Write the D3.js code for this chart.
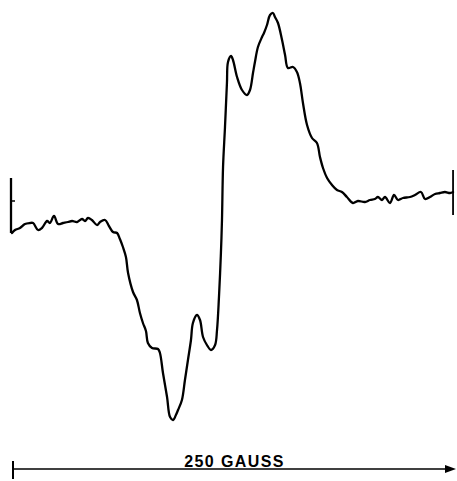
<!DOCTYPE html>
<html>
<head>
<meta charset="utf-8">
<script src="https://cdn.jsdelivr.net/npm/d3@7/dist/d3.min.js"></script>
<style>
  html, body { margin: 0; padding: 0; background: #fff; }
  svg { display: block; }
</style>
</head>
<body>
<script>
// EPR derivative spectrum: field offset (gauss) and signal amplitude (arbitrary units)
const field = [
  0, 1.7, 4.5, 7.3, 10.2, 11.9, 14.7, 16.9, 19.8, 21.4, 23.7, 26.0, 28.8, 31.6, 33.9, 36.7,
  39.5, 41.2, 42.9, 45.1, 48.0, 49.7, 52.5, 54.7, 57.0, 59.3, 60.9, 62.6, 64.3, 65.5, 68.3,
  70.5, 72.2, 73.9, 75.6, 76.7, 79.0, 82.4, 83.5, 85.2, 87.5, 89.2, 90.9, 92.5, 93.7, 95.9,
  97.6, 99.3, 101.0, 102.1, 104.4, 106.1, 107.8, 110.0, 112.3, 114.6, 115.7, 116.8, 117.9,
  118.5, 119.1, 120.2, 121.3, 121.9, 123.6, 124.7, 127.0, 129.8, 132.6, 134.3, 136.0, 137.1,
  138.8, 141.1, 142.2, 143.9, 145.6, 147.3, 148.4, 150.1, 152.4, 154.1, 155.7, 158.6, 160.8,
  162.5, 164.2, 166.5, 169.3, 172.1, 173.8, 175.5, 177.8, 180.6, 183.4, 186.2, 189.0, 192.4,
  195.2, 199.2, 202.0, 204.8, 206.5, 208.8, 210.5, 213.3, 215.6, 217.8, 220.6, 224.6, 227.4,
  230.8, 233.1, 235.9, 238.7, 241.5, 244.3, 247.2, 248.9
];
const signal = [
  -10.5, -9, -8, -6, -5.5, -5.5, -9, -8, -4.5, -5.5, -2, -6, -5.5, -5, -4.5, -5,
  -3.5, -4.5, -3, -4, -6.5, -5, -4, -7, -10, -10.5, -13.5, -17.5, -22.5, -30.5, -40,
  -44, -50.5, -55.5, -59.5, -65.5, -68, -68.5, -70.5, -80.5, -92.5, -102.5, -104, -101.5, -99, -94,
  -84, -74, -64, -55.5, -51.5, -54, -62.5, -66.5, -69, -66.5, -59, -42.5, -20.5,
  -4, 22.5, 42.5, 64.5, 75, 78, 76, 67.5, 61, 58.5, 61, 69.5, 75,
  82.5, 87.5, 89.5, 93.5, 98.5, 99.5, 97.5, 94.5, 86, 78.5, 72, 72.5, 70,
  64.5, 54.5, 43.5, 37, 34.5, 27.5, 22, 17, 13.5, 11, 10, 7.5, 4.5,
  5.5, 5, 6, 6.5, 7.5, 6, 7.5, 4.5, 8.5, 6, 7, 7.5, 8.5,
  10, 6.5, 7.5, 9, 9.5, 10, 9.5, 10
];

// Recorder pen marks at the start and end of the sweep (field, top, bottom)
const startMark = { field: 0, top: 17, bottom: -10.5, tick: 5.5 };
const endMark = { field: 248.9, top: 21, bottom: -1.5 };

// Field scale bar
const scaleBar = { from: 0, to: 250, label: "250 GAUSS" };

const W = 457, H = 481;
const x = d3.scaleLinear().domain([0, 250]).range([12, 455]);
const y = d3.scaleLinear().domain([-105, 100]).range([422, 12]);

const svg = d3.select("body").append("svg")
  .attr("width", W).attr("height", H);

const pts = field.map((f, i) => [f, signal[i]]);

// spectrum trace
svg.append("path")
  .datum(pts)
  .attr("fill", "none")
  .attr("stroke", "#000")
  .attr("stroke-width", 2.3)
  .attr("stroke-linejoin", "round")
  .attr("stroke-linecap", "round")
  .attr("d", d3.line().x(d => x(d[0])).y(d => y(d[1])).curve(d3.curveCatmullRom.alpha(0.5)));

// start-of-sweep marker with its small zero tick
svg.append("line")
  .attr("x1", x(startMark.field) - 1).attr("x2", x(startMark.field) - 1)
  .attr("y1", y(startMark.top)).attr("y2", y(startMark.bottom))
  .attr("stroke", "#000").attr("stroke-width", 2.3);
svg.append("line")
  .attr("x1", x(startMark.field) - 1).attr("x2", x(startMark.field) + 3)
  .attr("y1", y(startMark.tick)).attr("y2", y(startMark.tick))
  .attr("stroke", "#000").attr("stroke-width", 1.5);

// end-of-sweep marker
svg.append("line")
  .attr("x1", x(endMark.field)).attr("x2", x(endMark.field))
  .attr("y1", y(endMark.top)).attr("y2", y(endMark.bottom))
  .attr("stroke", "#000").attr("stroke-width", 1.8);

// field scale bar with arrow
const barY = 469;
const g = svg.append("g");
g.append("line")
  .attr("x1", x(scaleBar.from) + 1).attr("x2", x(scaleBar.from) + 1)
  .attr("y1", barY - 8).attr("y2", barY + 10)
  .attr("stroke", "#000").attr("stroke-width", 2);
g.append("line")
  .attr("x1", x(scaleBar.from) + 1).attr("x2", x(scaleBar.to) - 6)
  .attr("y1", barY).attr("y2", barY)
  .attr("stroke", "#000").attr("stroke-width", 1.4);
const tip = x(scaleBar.to) + 1;
g.append("path")
  .attr("d", `M${tip},${barY} L${tip - 11},${barY - 4} L${tip - 11},${barY + 4} Z`)
  .attr("fill", "#000");

g.append("text")
  .attr("x", (x(scaleBar.from) + x(scaleBar.to)) / 2 + 1)
  .attr("y", barY - 2)
  .attr("text-anchor", "middle")
  .attr("font-family", "'Liberation Sans', Arial, sans-serif")
  .attr("font-weight", "bold")
  .attr("font-size", 16)
  .attr("letter-spacing", 1.4)
  .attr("fill", "#000")
  .text(scaleBar.label);
</script>
</body>
</html>
